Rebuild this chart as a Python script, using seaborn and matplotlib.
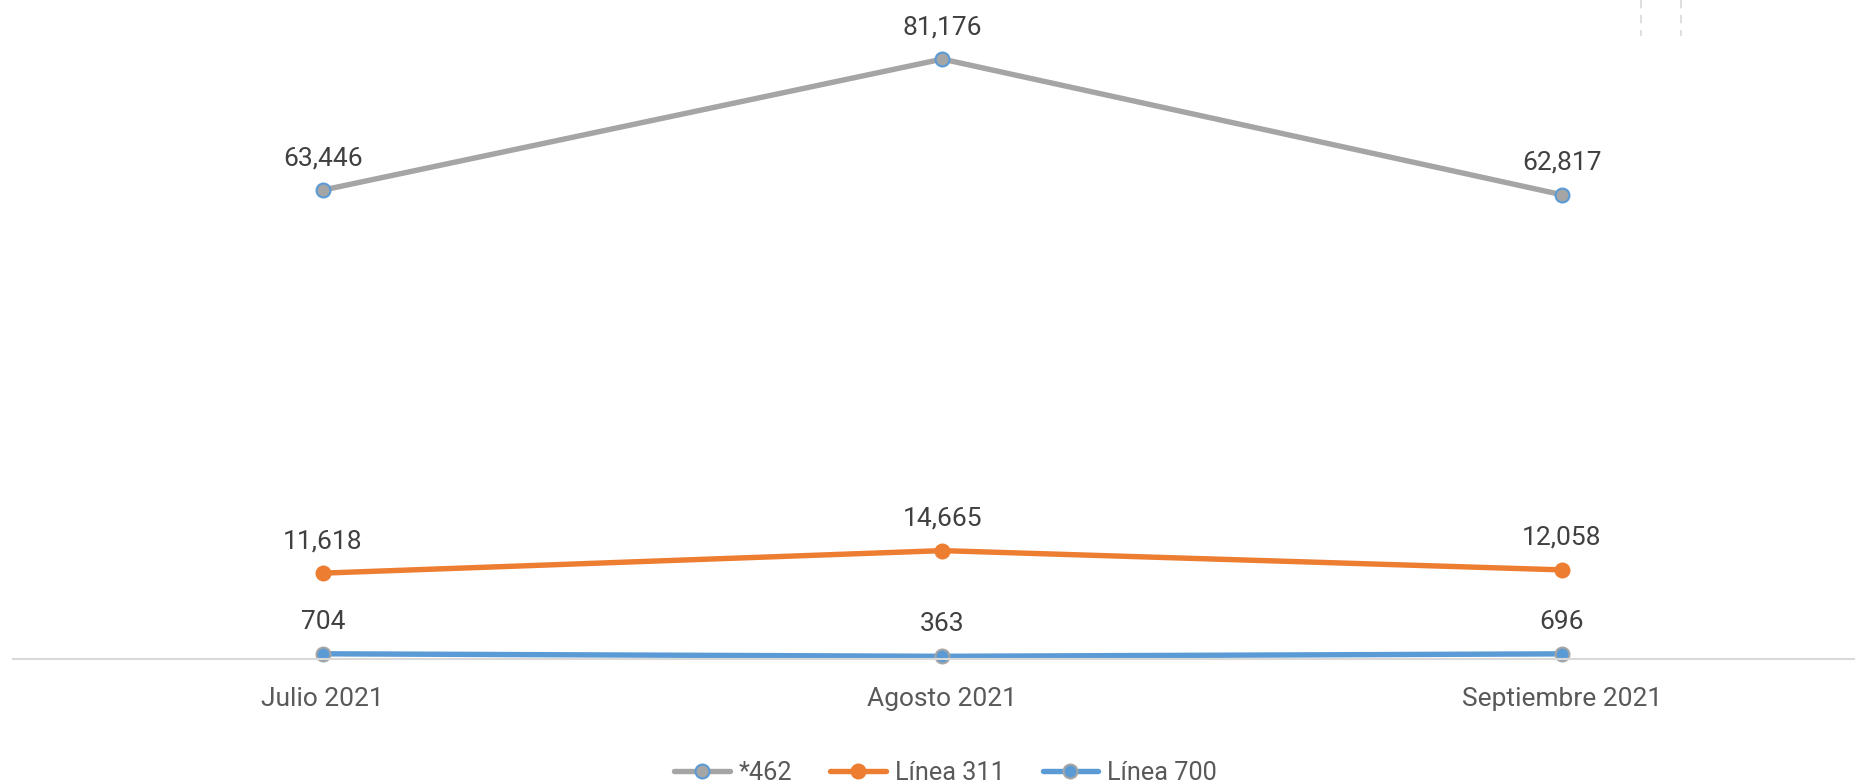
import matplotlib
matplotlib.use("Agg")
import matplotlib.pyplot as plt
from matplotlib.lines import Line2D
import seaborn as sns
import pandas as pd

months = ["Julio 2021", "Agosto 2021", "Septiembre 2021"]
serie_462 = [63446, 81176, 62817]
linea_311 = [11618, 14665, 12058]
linea_700 = [704, 363, 696]

series_names = ["*462", "Línea 311", "Línea 700"]
series_values = [serie_462, linea_311, linea_700]
line_colors = ["#A5A5A5", "#ED7D31", "#5B9BD5"]
edge_colors = ["#5B9BD5", "#ED7D31", "#A5A5A5"]

sns.set_theme(style="white")
plt.rcParams["font.family"] = ["Roboto", "DejaVu Sans"]

fig = plt.figure(figsize=(18.55, 7.83), dpi=100)
ax = fig.add_axes([13 / 1855, 124 / 783, 1 - 13 / 1855, 659 / 783])

LW = 3.9
MS = 10
for name, vals, lc, ec in zip(series_names, series_values, line_colors, edge_colors):
    df = pd.DataFrame({"mes": range(len(months)), "valor": vals})
    sns.lineplot(data=df, x="mes", y="valor", ax=ax, color=lc, linewidth=LW,
                 marker="o", markersize=MS, markerfacecolor=lc,
                 markeredgecolor=ec, markeredgewidth=1.5, label=name)
    for i, v in enumerate(vals):
        ax.annotate(f"{v:,}", (i, v), xytext=(0, 18), textcoords="offset points",
                    ha="center", va="baseline", fontsize=19, color="#404040")

ax.set_xlim(-0.5, 2.473)
ax.set_ylim(0, 89170)
ax.set_xticks(range(len(months)))
ax.set_xticklabels(months)
ax.set_yticks([])
ax.set_xlabel("")
ax.set_ylabel("")
ax.tick_params(axis="x", length=0, pad=20, labelsize=19, labelcolor="#595959")
for side in ["top", "right", "left"]:
    ax.spines[side].set_visible(False)
ax.spines["bottom"].set_color("#D9D9D9")
ax.spines["bottom"].set_linewidth(1.5)
for ln in ax.lines:
    ln.set_clip_on(False)

handles = [Line2D([], [], color=lc, linewidth=LW, marker="o", markersize=MS,
                  markerfacecolor=lc, markeredgecolor=ec, markeredgewidth=1.5)
           for lc, ec in zip(line_colors, edge_colors)]
ax.get_legend().remove()
fig.legend(handles, series_names, loc="center", bbox_to_anchor=(0.5097, 10 / 783),
           ncol=3, frameon=False, fontsize=18.2, labelcolor="#595959",
           handlelength=2.2, handletextpad=0.35, columnspacing=1.5)

# thin dashed guides in the upper right corner
for xp in (1641, 1681):
    fig.add_artist(Line2D([xp / 1855, xp / 1855], [1.0, 1 - 36 / 783],
                          transform=fig.transFigure, color="#D9D9D9",
                          linewidth=1.2, linestyle=(0, (5, 4))))

fig.savefig("out.png", dpi=100)
